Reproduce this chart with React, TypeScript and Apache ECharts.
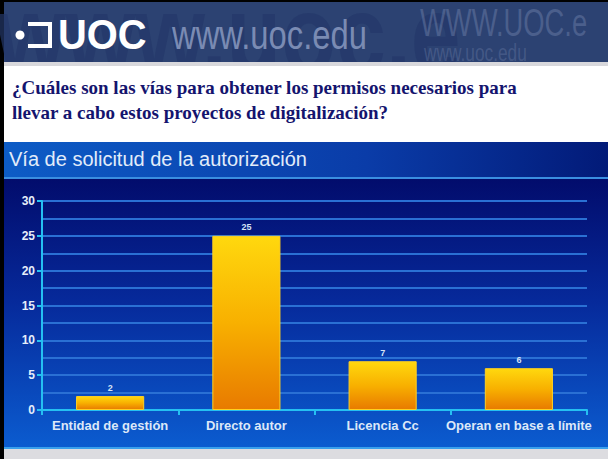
import React, { useEffect, useRef } from "react";
import * as echarts from "echarts";

const categories = ["Entidad de gestión", "Directo autor", "Licencia Cc", "Operan en base a límite"];
const values = [2, 25, 7, 6];
const chartTitle = "Vía de solicitud de la autorización";
const questionLines = [
  "¿Cuáles son las vías para obtener los permisos necesarios para",
  "llevar a cabo estos proyectos de digitalización?",
];

export default function App() {
  const ref = useRef<HTMLDivElement>(null);
  useEffect(() => {
    const chart = echarts.init(ref.current!, undefined, { renderer: "svg" });
    const lg = (stops: [number, string][], x2 = 0, y2 = 1) =>
      new echarts.graphic.LinearGradient(0, 0, x2, y2, stops.map(([offset, color]) => ({ offset, color })));
    const sans = "'Liberation Sans', Arial, sans-serif";
    chart.setOption({
      animation: false,
      backgroundColor: "#000000",
      graphic: [
        // header
        { type: "rect", z: -30, shape: { x: 4, y: 2, width: 604, height: 60 }, style: { fill: "#2c4272" } },
        { type: "text", z: -29, x: -4, y: -22, scaleX: 0.8, style: { text: "www.uoc.e", font: "bold 112px " + sans, fill: "#24376a", opacity: 0.7 } },
        { type: "text", z: -28, x: 420, y: 4, scaleX: 0.72, style: { text: "WWW.UOC.e", font: "38px " + sans, fill: "#6a7ca6", opacity: 0.5 } },
        { type: "text", z: -28, x: 424, y: 40, scaleX: 0.72, style: { text: "www.uoc.edu", font: "24px " + sans, fill: "#6a7ca6", opacity: 0.4 } },
        { type: "circle", z: -27, shape: { cx: 20, cy: 35, r: 4.5 }, style: { fill: "#ffffff" } },
        { type: "polyline", z: -27, shape: { points: [[28, 24], [50, 24], [50, 46], [28, 46]] }, style: { stroke: "#ffffff", lineWidth: 4, fill: null } },
        { type: "text", z: -27, x: 58, y: 14, scaleX: 0.95, style: { text: "UOC", font: "bold 42px " + sans, fill: "#ffffff" } },
        { type: "text", z: -27, x: 172, y: 15, scaleX: 0.82, style: { text: "www.uoc.edu", font: "40px " + sans, fill: "#7a8bb3" } },
        // gray strip and white area
        { type: "rect", z: -20, shape: { x: 4, y: 62, width: 604, height: 4 }, style: { fill: "#d8d8dc" } },
        { type: "rect", z: -20, shape: { x: 4, y: 66, width: 604, height: 76 }, style: { fill: "#ffffff" } },
        { type: "text", z: -18, left: 12, top: 78, style: { text: questionLines[0], font: "bold 19px 'Liberation Serif', 'Times New Roman', serif", fill: "#14146e" } },
        { type: "text", z: -18, left: 12, top: 103, style: { text: questionLines[1], font: "bold 19px 'Liberation Serif', 'Times New Roman', serif", fill: "#14146e" } },
        // title band
        { type: "rect", z: -20, shape: { x: 4, y: 142, width: 604, height: 36 }, style: { fill: lg([[0, "#0d5cc6"], [0.6, "#0a3ca8"], [1, "#021a78"]], 1, 0) } },
        { type: "text", z: -18, left: 9, top: 149, style: { text: chartTitle, font: "20px " + sans, fill: "#e2ecfa" } },
        { type: "rect", z: -19, shape: { x: 4, y: 177, width: 604, height: 2 }, style: { fill: "#3a8ee0" } },
        // chart background
        { type: "rect", z: -20, shape: { x: 4, y: 179, width: 604, height: 269 }, style: { fill: lg([[0, "#020c6c"], [0.45, "#06299a"], [1, "#0b5cd0"]]) } },
        { type: "rect", z: -19, shape: { x: 4, y: 447, width: 604, height: 2 }, style: { fill: "#3aa0ec" } },
        { type: "rect", z: -20, shape: { x: 4, y: 449, width: 604, height: 10 }, style: { fill: "#dcdce0" } },
      ],
      grid: { left: 42, right: 21, top: 201, bottom: 49 },
      xAxis: {
        type: "category",
        data: categories,
        axisLine: { lineStyle: { color: "#25c0f2", width: 2 } },
        axisTick: { show: true, length: 5, lineStyle: { color: "#25c0f2", width: 2 } },
        axisLabel: { interval: 0, color: "#dce8f8", fontSize: 13, fontWeight: "bold", fontFamily: sans, margin: 9 },
      },
      yAxis: {
        type: "value",
        min: 0,
        max: 30,
        interval: 5,
        axisLine: { show: true, lineStyle: { color: "#25c0f2", width: 2 } },
        axisTick: { show: true, length: 5, lineStyle: { color: "#25c0f2", width: 2 } },
        axisLabel: { color: "#e6eefa", fontSize: 12, fontWeight: "bold", fontFamily: sans, margin: 7 },
        splitLine: { show: true, lineStyle: { color: "#2a70d4", width: 2 } },
        minorTick: { show: false, splitNumber: 2 },
        minorSplitLine: { show: true, lineStyle: { color: "#2a70d4", width: 2 } },
      },
      series: [
        {
          type: "bar",
          data: values,
          barWidth: "50%",
          itemStyle: {
            color: lg([[0, "#ffd80e"], [0.5, "#f8b000"], [1, "#e87a00"]]),
            borderColor: "#ffd020",
            borderWidth: 1,
          },
          label: {
            show: true,
            position: "top",
            distance: 4,
            color: "#d6e4f6",
            fontSize: 9,
            fontWeight: "bold",
            fontFamily: sans,
          },
        },
      ],
    });
    return () => chart.dispose();
  }, []);
  return <div ref={ref} style={{ position: "fixed", left: 0, top: 0, width: 608, height: 459 }} />;
}
